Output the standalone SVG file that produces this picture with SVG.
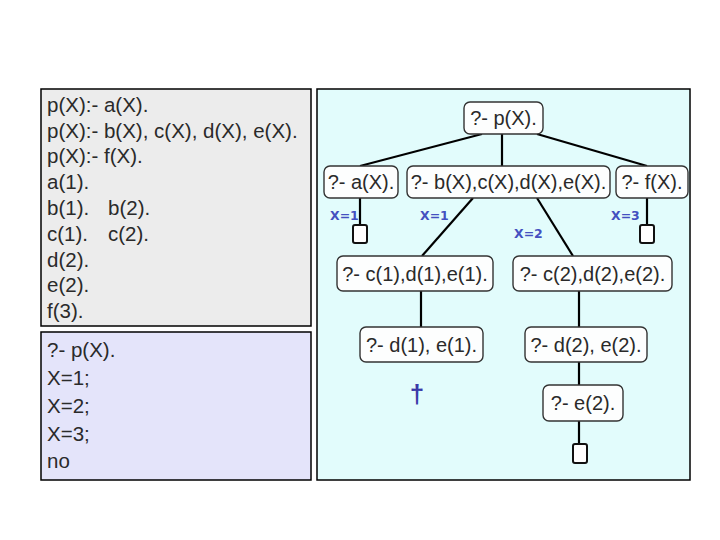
<svg xmlns="http://www.w3.org/2000/svg" width="720" height="540" viewBox="0 0 720 540">
<style>
.code{font-family:"Liberation Sans",Arial,sans-serif;font-size:20.5px;fill:#2a2a2a}
.node rect{fill:#fdfefe;stroke:#333;stroke-width:1.4}
.node text{font-family:"Liberation Sans",Arial,sans-serif;font-size:20px;fill:#2a2a2a;text-anchor:middle}
.lbl{font-family:"DejaVu Sans",Verdana,sans-serif;font-weight:bold;font-size:12.5px;fill:#4450c0}
.edge line{stroke:#000;stroke-width:2.2}
.term{fill:#fff;stroke:#111;stroke-width:2}
</style>
<rect width="720" height="540" fill="#fff"/>
<g id="program">
<rect x="41" y="89" width="270" height="237" fill="#ececec" stroke="#000" stroke-width="1.5"/>
<text class="code" x="47" y="111.7">p(X):- a(X).</text>
<text class="code" x="47" y="137.5">p(X):- b(X), c(X), d(X), e(X).</text>
<text class="code" x="47" y="163.3">p(X):- f(X).</text>
<text class="code" x="47" y="189.1">a(1).</text>
<text class="code" x="47" y="214.9">b(1).</text>
<text class="code" x="108" y="214.9">b(2).</text>
<text class="code" x="47" y="240.7">c(1).</text>
<text class="code" x="108" y="240.7">c(2).</text>
<text class="code" x="47" y="266.5">d(2).</text>
<text class="code" x="47" y="292.3">e(2).</text>
<text class="code" x="47" y="318.1">f(3).</text>
</g>
<g id="query">
<rect x="41" y="332" width="270" height="148" fill="#e4e4fa" stroke="#000" stroke-width="1.5"/>
<text class="code" x="47" y="357">?- p(X).</text>
<text class="code" x="47" y="385">X=1;</text>
<text class="code" x="47" y="413">X=2;</text>
<text class="code" x="47" y="441">X=3;</text>
<text class="code" x="47" y="468">no</text>
</g>
<rect id="tree-panel" x="317" y="89" width="373" height="391" fill="#e2fcfc" stroke="#000" stroke-width="1.5"/>
<g id="connectors" class="edge">
<line x1="482" y1="134" x2="360" y2="166"/>
<line x1="502" y1="134" x2="502" y2="166"/>
<line x1="537" y1="134" x2="647" y2="166"/>
<line x1="360" y1="198" x2="360" y2="225"/>
<line x1="473" y1="198" x2="422" y2="256"/>
<line x1="537" y1="198" x2="573" y2="256"/>
<line x1="647" y1="198" x2="647" y2="225"/>
<line x1="421" y1="291" x2="421" y2="327"/>
<line x1="579" y1="291" x2="579" y2="327"/>
<line x1="579" y1="362" x2="579" y2="385"/>
<line x1="579" y1="421" x2="579" y2="444"/>
</g>
<g id="labels">
<text class="lbl" x="330" y="220">X=1</text>
<text class="lbl" x="420" y="220">X=1</text>
<text class="lbl" x="514" y="238">X=2</text>
<text class="lbl" x="611" y="220">X=3</text>
</g>
<g id="n-p" class="node"><rect x="464" y="102" width="79" height="32" rx="6"/><text x="503.5" y="125">?- p(X).</text></g>
<g id="n-a" class="node"><rect x="324" y="166" width="74" height="32" rx="6"/><text x="361" y="189">?- a(X).</text></g>
<g id="n-b" class="node"><rect x="407" y="166" width="203" height="32" rx="6"/><text x="508.5" y="189">?- b(X),c(X),d(X),e(X).</text></g>
<g id="n-f" class="node"><rect x="616" y="166" width="72" height="32" rx="6"/><text x="652" y="189">?- f(X).</text></g>
<g id="n-c1" class="node"><rect x="337" y="256" width="156" height="35" rx="6"/><text x="415" y="280.5">?- c(1),d(1),e(1).</text></g>
<g id="n-c2" class="node"><rect x="513" y="256" width="159" height="35" rx="6"/><text x="592.5" y="280.5">?- c(2),d(2),e(2).</text></g>
<g id="n-d1" class="node"><rect x="360" y="327" width="123" height="35" rx="6"/><text x="421.5" y="351.5">?- d(1), e(1).</text></g>
<g id="n-d2" class="node"><rect x="525" y="327" width="122" height="35" rx="6"/><text x="586" y="351.5">?- d(2), e(2).</text></g>
<g id="n-e2" class="node"><rect x="543" y="385" width="80" height="36" rx="6"/><text x="583" y="410">?- e(2).</text></g>
<g id="t-a"><rect class="term" x="353" y="225" width="14" height="18" rx="2"/></g>
<g id="t-f"><rect class="term" x="640" y="225" width="14" height="18" rx="2"/></g>
<g id="t-e2"><rect class="term" x="573" y="444" width="14" height="19" rx="2"/></g>
<g id="fail"><text x="417" y="403" font-family="Liberation Sans,Arial,sans-serif" font-size="26" font-weight="bold" fill="#3a3aa8" text-anchor="middle">†</text></g>
</svg>
